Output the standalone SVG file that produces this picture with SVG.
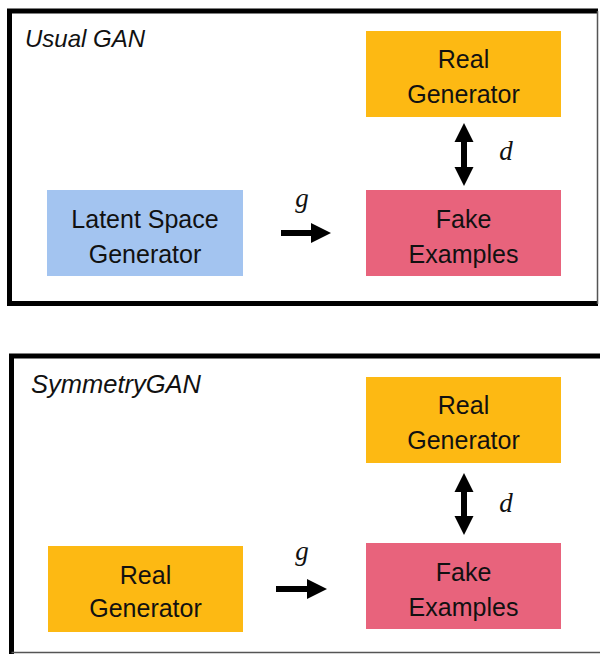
<svg xmlns="http://www.w3.org/2000/svg" width="600" height="654" viewBox="0 0 600 654">
<style>
.lbl{font-family:"Liberation Sans",Arial,sans-serif;font-size:25px;fill:#111;text-anchor:middle}
.ttl{font-family:"Liberation Sans",Arial,sans-serif;font-size:24px;font-style:italic;fill:#111}
.math{font-family:"Liberation Serif","Times New Roman",serif;font-size:27px;font-style:italic;fill:#111;text-anchor:middle}
.orange{fill:#FDB913}
.blue{fill:#A3C4F0}
.pink{fill:#E8637C}
.frame{fill:none;stroke:#000;stroke-width:5}
.thin{fill:none;stroke:#555;stroke-width:1.5}
.arr{fill:#000}
</style>
<rect width="600" height="654" fill="#fff"/>
<g id="panel-usual">
<path class="frame" d="M598,11 H9.5 V303.5 H598"/>
<path class="thin" d="M597.5,11 V304"/>
<text class="ttl" x="25" y="47">Usual GAN</text>
</g>
<g id="panel-symmetry">
<path class="frame" d="M600,356 H11.5 V654"/>
<path class="thin" d="M11.5,652.5 H600"/>
<text class="ttl" x="31" y="393" style="font-size:25.5px">SymmetryGAN</text>
</g>
<g id="real-gen-top">
<rect class="orange" x="366" y="31" width="195" height="86"/>
<text class="lbl" x="463.5" y="68">Real</text>
<text class="lbl" x="463.5" y="103">Generator</text>
</g>
<g id="latent-space">
<rect class="blue" x="47" y="190" width="196" height="86"/>
<text class="lbl" x="145" y="228">Latent Space</text>
<text class="lbl" x="145" y="263">Generator</text>
</g>
<g id="fake-top">
<rect class="pink" x="366" y="190" width="195" height="86"/>
<text class="lbl" x="463.5" y="228">Fake</text>
<text class="lbl" x="463.5" y="263">Examples</text>
</g>
<g id="real-gen-sym-top">
<rect class="orange" x="366" y="377" width="195" height="86"/>
<text class="lbl" x="463.5" y="414">Real</text>
<text class="lbl" x="463.5" y="449">Generator</text>
</g>
<g id="real-gen-sym-left">
<rect class="orange" x="48" y="546" width="195" height="86"/>
<text class="lbl" x="145.5" y="584">Real</text>
<text class="lbl" x="145.5" y="617">Generator</text>
</g>
<g id="fake-sym">
<rect class="pink" x="366" y="543" width="195" height="86"/>
<text class="lbl" x="463.5" y="581">Fake</text>
<text class="lbl" x="463.5" y="616">Examples</text>
</g>
<g id="connectors">
<path class="arr" d="M464,123 L473.5,142 H467 V167 H473.5 L464,186 L454.5,167 H461 V142 H454.5 Z"/>
<path class="arr" d="M281,230 H311 V223 L331,233 L311,243 V236 H281 Z"/>
<text class="math" x="302" y="207">g</text>
<text class="math" x="506" y="160">d</text>
<path class="arr" d="M464,473 L473.5,492 H467 V516 H473.5 L464,535 L454.5,516 H461 V492 H454.5 Z"/>
<path class="arr" d="M276,586 H307 V579 L327,589 L307,599 V592 H276 Z"/>
<text class="math" x="302" y="560">g</text>
<text class="math" x="506" y="512">d</text>
</g>
</svg>
